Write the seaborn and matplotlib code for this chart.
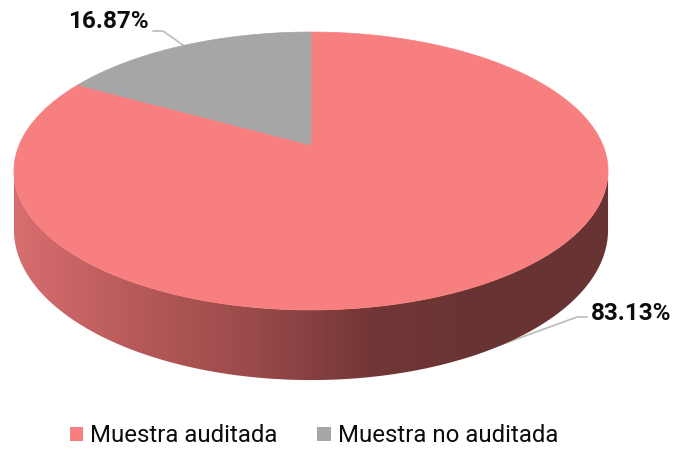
import numpy as np
import matplotlib
matplotlib.use("Agg")
import matplotlib.pyplot as plt
import seaborn as sns
from matplotlib.patches import Polygon, Patch
from matplotlib.colors import LinearSegmentedColormap

# ---- data ----
categories = ["Muestra auditada", "Muestra no auditada"]
values = [83.13, 16.87]
labels = ["83.13%", "16.87%"]
colors = ["#F87F7F", "#A6A6A6"]

sns.set_theme(style="white")
plt.rcParams['font.family'] = ['Roboto', 'DejaVu Sans']

W, H = 676, 450
fig = plt.figure(figsize=(W / 100, H / 100), dpi=100)
ax = fig.add_axes([0, 0, 1, 1])
ax.set_xlim(0, W)
ax.set_ylim(H, 0)
ax.axis("off")

# ---- perspective model of the pie (pixel space) ----
cx, cy = 311.0, 145.0      # projected centre of pie
sx, sy = 291.8, 134.1      # scales
a = 0.187                  # perspective strength
D = 57.0                   # thickness


def proj(phi, depth=0.0):
    u = np.sin(phi)
    v = -np.cos(phi)
    w = 1 - a * v
    x = cx + sx * u / w
    y = cy + sy * v / w + depth / w
    return x, y


fr = np.array(values) / np.sum(values)
bounds = np.concatenate([[0], np.cumsum(fr)]) * 2 * np.pi

# side face (front visible part)
phi_r = np.arccos(-a)
phi_l = 2 * np.pi - np.arccos(-a)
ph = np.linspace(phi_r, phi_l, 400)
xt, yt = proj(ph)
xb, yb = proj(ph[::-1], D)
side = Polygon(np.column_stack([np.r_[xt, xb], np.r_[yt, yb]]),
               closed=True, facecolor="none", edgecolor="none")
ax.add_patch(side)
cmap = LinearSegmentedColormap.from_list(
    "side", ["#D86E70", "#B85A5A", "#9A4A4A", "#733636", "#683333", "#683333"])
grad = np.linspace(0, 1, 256).reshape(1, -1)
im = ax.imshow(grad, extent=[12, 612, 400, 150], cmap=cmap, aspect="auto",
               zorder=1, interpolation="bilinear")
im.set_clip_path(side)

# top faces
for i, (c, col) in enumerate(zip(categories, colors)):
    ph = np.linspace(bounds[i], bounds[i + 1], 400)
    x, y = proj(ph)
    pts = np.column_stack([np.r_[cx, x], np.r_[cy, y]])
    ax.add_patch(Polygon(pts, closed=True, facecolor=col, edgecolor=col,
                         lw=0.5, zorder=2))

# labels with leader lines (behind the pie)
lc = "#BFBFBF"
ax.plot([470, 577, 587], [356, 317, 317], color=lc, lw=1.3, zorder=0.5)
ax.text(591, 313, labels[0], fontsize=17.5, fontweight="bold",
        ha="left", va="center", color="#0D0D0D", zorder=4)
ax.plot([190, 163, 153], [50, 31, 31], color=lc, lw=1.3, zorder=0.5)
ax.text(149, 22, labels[1], fontsize=17.5, fontweight="bold",
        ha="right", va="center", color="#0D0D0D", zorder=4)

# legend
handles = [Patch(facecolor=col, edgecolor="none") for col in colors]
fig.legend(handles, categories, loc="center", bbox_to_anchor=(314 / W, 1 - 436 / H),
           ncol=2, frameon=False, fontsize=17.3, handlelength=0.55, handleheight=0.55,
           handletextpad=0.3, columnspacing=1.65, labelcolor="#0D0D0D")

fig.savefig("out.png", dpi=100, facecolor="white")
